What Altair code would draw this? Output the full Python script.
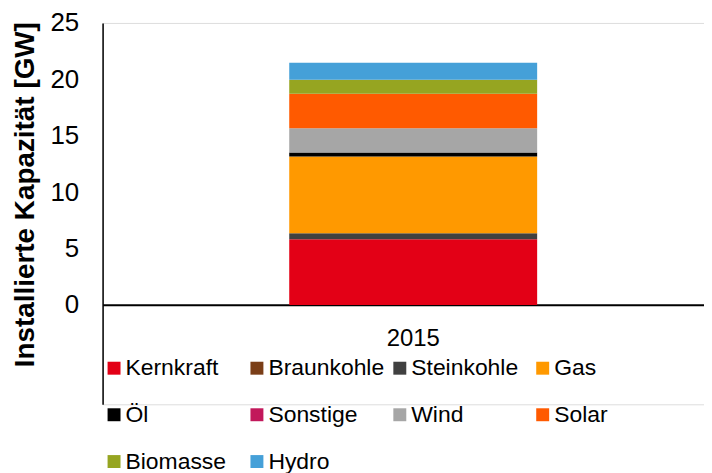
import altair as alt
import pandas as pd

years = ["2015"]
sources = ["Kernkraft", "Braunkohle", "Steinkohle", "Gas", "Öl",
           "Sonstige", "Wind", "Solar", "Biomasse", "Hydro"]
values_gw = [5.83, 0.0, 0.53, 6.80, 0.36, 0.0, 2.14, 3.07, 1.23, 1.51]
colors = ["#E30016", "#7A3E17", "#404040", "#FF9900", "#000000",
          "#C2185B", "#A6A6A6", "#FF5A00", "#96A521", "#45A0D8"]
y_ticks = [0, 5, 10, 15, 20, 25]

df = pd.DataFrame({
    "Jahr": years[0],
    "Quelle": sources,
    "GW": values_gw,
    "idx": list(range(len(sources))),
})

FONT = "Liberation Sans"
W, H = 604, 383

bars = alt.Chart(df).mark_bar().encode(
    x=alt.X("Jahr:N",
            scale=alt.Scale(paddingInner=0, paddingOuter=0.7129, align=0.528),
            axis=alt.Axis(title=None, orient="bottom", offset=-100, ticks=False,
                          domain=True, domainColor="#000000", domainWidth=2,
                          labelFontSize=24, labelFont=FONT, labelColor="#000000",
                          labelAngle=0, labelPadding=22)),
    y=alt.Y("GW:Q",
            stack="zero",
            scale=alt.Scale(domain=[-8.8, 25], nice=False, zero=False),
            axis=alt.Axis(values=y_ticks, ticks=False, grid=False,
                          domainColor="#000000", domainWidth=1.5,
                          labelFontSize=26, labelFont=FONT, labelColor="#000000",
                          labelPadding=24,
                          title="Installierte Kapazität [GW]",
                          titleFont=FONT, titleFontSize=28, titleFontWeight="bold",
                          titleColor="#000000", titleAngle=-90,
                          titleX=-77, titleY=172, titleAlign="center",
                          titleBaseline="middle")),
    color=alt.Color("Quelle:N",
                    scale=alt.Scale(domain=sources, range=colors),
                    legend=alt.Legend(title=None, orient="none", legendX=0, legendY=335,
                                      direction="horizontal",
                                      columns=4, gridAlign="all", columnPadding=3.5,
                                      rowPadding=23, symbolType="square",
                                      symbolSize=169, symbolStrokeWidth=0,
                                      labelFont=FONT, labelFontSize=23,
                                      labelColor="#000000", labelOffset=0,
                                      labelLimit=300, padding=0)),
    order=alt.Order("idx:Q", sort="ascending"),
)

chart = bars.properties(
    width=W, height=H,
    autosize=alt.AutoSizeParams(type="none"),
    padding={"left": 95, "top": 14, "right": 0, "bottom": 70},
).configure_view(stroke=None).configure(background="white")

chart.save("out.html", embed_options={"renderer": "svg", "actions": False})
